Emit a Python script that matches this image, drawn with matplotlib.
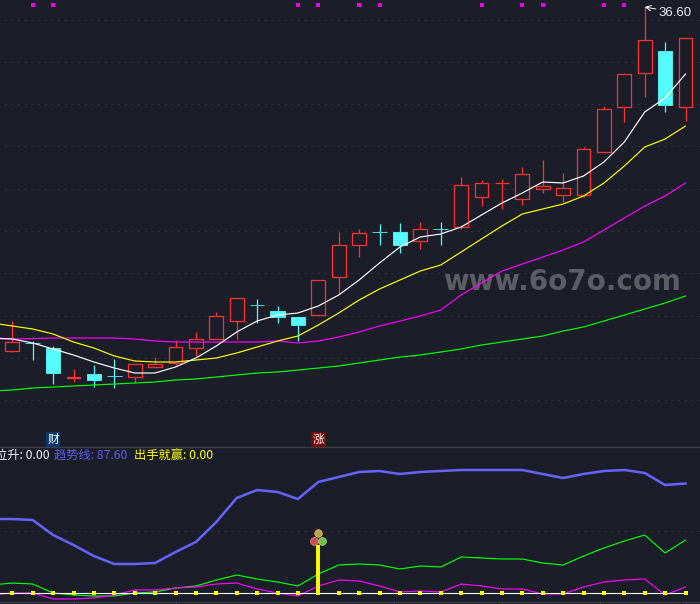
import numpy as np
import matplotlib
matplotlib.use('Agg')
import matplotlib.pyplot as plt

plt.rcParams['font.family'] = ['Noto Sans CJK SC', 'DejaVu Sans']

# candles, oldest first
opens = [19.40, 19.80, 19.55, 18.05, 18.25, 18.15, 18.10, 18.60, 18.80, 19.55, 20.00, 20.90, 21.70, 21.40, 21.10, 21.20, 23.10,
         24.70, 25.35, 25.35, 24.90, 25.50, 25.60, 27.10, 27.80, 27.00, 27.50, 27.20, 27.20, 29.35, 31.60, 33.30, 34.40, 31.60]
closes = [19.85, 19.79, 18.30, 18.10, 17.95, 18.14, 18.75, 18.75, 19.60, 20.00, 21.15, 22.05, 21.69, 21.10, 20.70, 22.95, 24.70,
          25.30, 25.34, 24.70, 25.50, 25.49, 27.70, 27.80, 27.80, 28.25, 27.65, 27.55, 29.50, 31.50, 33.25, 34.95, 31.70, 35.05]
highs = [20.90, 19.90, 19.65, 18.50, 18.70, 19.00, 18.75, 19.10, 19.95, 20.35, 21.35, 22.05, 22.00, 21.65, 21.10, 22.95, 25.35,
         25.50, 25.75, 25.80, 25.85, 25.85, 28.10, 27.95, 28.00, 28.60, 28.95, 28.30, 29.60, 31.65, 33.30, 36.60, 34.85, 35.05]
lows = [19.35, 18.95, 17.75, 17.85, 17.60, 17.55, 17.80, 18.55, 18.70, 19.15, 20.00, 20.00, 20.80, 20.80, 19.90, 21.20, 22.25,
        24.10, 24.70, 24.30, 24.50, 24.70, 25.50, 26.65, 26.50, 26.70, 27.30, 26.85, 27.10, 29.35, 30.85, 32.10, 31.35, 30.90]

# moving averages, first value belongs to the candle just off the left edge
ma5 = [20.05, 20.00, 19.80, 19.50, 19.20, 18.85, 18.55, 18.30, 18.30, 18.60, 19.05, 19.65, 20.35, 20.90, 21.20, 21.30, 21.65,
       22.20, 22.95, 23.80, 24.60, 25.10, 25.25, 25.60, 26.20, 26.80, 27.30, 27.85, 27.80, 28.15, 28.85, 29.85, 31.35, 32.05, 33.25]
ma10 = [20.80, 20.65, 20.50, 20.25, 19.85, 19.55, 19.15, 18.90, 18.85, 18.85, 18.95, 19.05, 19.30, 19.60, 19.90, 20.15, 20.70,
        21.30, 21.95, 22.50, 22.95, 23.40, 23.70, 24.35, 25.00, 25.65, 26.25, 26.50, 26.75, 27.15, 27.80, 28.65, 29.60, 30.00, 30.65]
ma20 = [20.00, 20.00, 20.02, 20.05, 20.05, 20.05, 20.05, 20.00, 19.90, 19.85, 19.85, 19.85, 19.85, 19.85, 19.90, 19.80, 19.90,
        20.10, 20.35, 20.65, 20.90, 21.15, 21.45, 22.20, 22.80, 23.40, 23.75, 24.10, 24.45, 24.85, 25.45, 26.05, 26.65, 27.15, 27.80]
ma60 = [17.40, 17.45, 17.55, 17.60, 17.65, 17.70, 17.75, 17.80, 17.85, 17.95, 18.00, 18.10, 18.20, 18.30, 18.35, 18.45, 18.55,
        18.65, 18.80, 18.95, 19.10, 19.20, 19.35, 19.50, 19.70, 19.85, 20.00, 20.15, 20.40, 20.60, 20.90, 21.20, 21.50, 21.80, 22.15]

grid_prices = [35.97, 33.87, 31.75, 29.65, 27.52, 25.40, 23.30, 21.17, 19.05, 16.95]
flag_days = [1, 2, 14, 15, 17, 18, 23, 25, 26, 29, 30]
peak_day = 31
peak_price = 36.60

# lower pane
trend = [59.2, 59.2, 58.4, 46.4, 38.4, 29.6, 23.2, 23.2, 24.0, 32.8, 40.8, 56.8, 76.0, 82.4, 80.8, 75.2, 88.8, 92.8,
         96.8, 97.6, 95.2, 96.8, 97.6, 98.4, 98.4, 98.4, 98.4, 95.2, 92.0, 95.2, 97.6, 98.4, 96.0, 86.4, 87.6]
green_osc = [6.4, 8.0, 7.2, 0.0, -1.6, -2.4, -2.4, 0.0, 0.8, 4.0, 5.6, 10.4, 14.4, 11.2, 8.8, 5.6, 15.2, 22.4,
             23.2, 22.4, 19.2, 21.6, 20.8, 28.8, 28.0, 27.2, 27.2, 24.0, 22.4, 29.6, 36.0, 41.6, 46.4, 32.0, 42.4]
magenta_osc = [-1.6, 0.0, 0.0, -4.8, -4.8, -4.0, -1.6, 2.4, 2.4, 4.0, 4.8, 7.2, 8.0, 3.2, 0.0, -2.4, 5.6, 10.4,
               9.6, 5.6, 0.8, 1.6, 0.8, 7.2, 5.6, 3.2, 3.2, -0.8, -0.8, 4.8, 8.8, 10.4, 11.2, -1.6, 4.8]
baseline = [0.0] * 34
signal_day = 15
signal_value = 38.4
tick_days = [3, 8, 18.7, 24, 28.8, 33]

bg = '#1b1e28'
red = '#ff3232'
cyan = '#54fcfc'
days = np.arange(len(opens))
line_days = np.arange(-1, len(opens))

fig = plt.figure(figsize=(7.0, 6.04), dpi=100, facecolor=bg)
ax = fig.add_axes([0, 157 / 604, 1, 447 / 604], facecolor=bg)
ax2 = fig.add_axes([0, 0, 1, 157 / 604], facecolor=bg)
for a in (ax, ax2):
    a.set_xlim(-0.603, 33.71)
    for s in a.spines.values():
        s.set_visible(False)
    a.tick_params(left=False, bottom=False, labelleft=False, labelbottom=False)
ax.set_ylim(14.6, 36.95)
ax2.set_ylim(-8.8, 116.8)

for p in grid_prices:
    ax.axhline(p, xmin=0.005, color='#30333c', lw=0.8, ls=(0, (2, 4)), zorder=1)
ax2.axhline(50, xmin=0.005, color='#30333c', lw=0.8, ls=(0, (2, 4)), zorder=1)

# watermark sits under the lines
ax.text(562 / 700, (447 - 282) / 447, 'www.6o7o.com', transform=ax.transAxes, color='#5c5e63', fontsize=20,
        fontweight='bold', ha='center', va='center', family=['DejaVu Sans'], zorder=2)

# candles
for d, o, c, h, l in zip(days, opens, closes, highs, lows):
    col = red if c >= o else cyan
    ax.vlines(d, max(o, c), h, color=col, lw=0.9, zorder=3)
    ax.vlines(d, l, min(o, c), color=col, lw=0.9, zorder=3)
    if c >= o:
        ax.bar(d, c - o, bottom=o, width=0.68, facecolor=bg, edgecolor=col, lw=0.9, zorder=3)
    else:
        ax.bar(d, o - c, bottom=c, width=0.72, facecolor=col, edgecolor=col, lw=0.6, zorder=3)

ax.plot(line_days, ma60, color='#00ff00', lw=0.85, zorder=4)
ax.plot(line_days, ma20, color='#ff00ff', lw=0.85, zorder=4)
ax.plot(line_days, ma10, color='#ffff00', lw=0.85, zorder=4)
ax.plot(line_days, ma5, color='#ffffff', lw=0.85, zorder=5)

ax.scatter(flag_days, [36.68] * len(flag_days), marker='s', s=6.5, color='#f000f0', lw=0, zorder=5)

ax.annotate(f'{peak_price:.2f}', xy=(peak_day, peak_price), xytext=(10, -4), textcoords='offset points',
            color='#e8f0f0', fontsize=9.5, va='center', family=['Liberation Sans'],
            arrowprops=dict(arrowstyle='->', color='white', lw=0.7, shrinkA=0, shrinkB=0))

# day marks above the divider
ax.text(2, 14.96, '财', color='white', fontsize=8.5, ha='center', va='center',
        bbox=dict(boxstyle='square,pad=0.12', facecolor='#0a3a6e', edgecolor='none'))
ax.text(signal_day, 14.96, '涨', color='white', fontsize=8.5, ha='center', va='center',
        bbox=dict(boxstyle='square,pad=0.12', facecolor='#7a0808', edgecolor='none'))

# lower pane
ax2.plot(line_days, trend, color='#6464ff', lw=1.8, zorder=3)
ax2.plot(line_days, green_osc, color='#00ff00', lw=0.85, zorder=3)
ax2.plot(line_days, magenta_osc, color='#ff00ff', lw=0.85, zorder=3)
ax2.plot(days, baseline, color='white', lw=0.8, zorder=4)
ax2.axhline(0, xmax=12.3 / 700, color='white', lw=0.8, zorder=4)
ax2.scatter(days, baseline, marker='s', s=6, color='#ffff00', lw=0, zorder=5)
ax2.vlines(signal_day, 0, signal_value, color='#ffff00', lw=2.8, zorder=5)
ax2.scatter([14.98], [48.0], s=30, color='#c8a040', edgecolors='#f0e0a0', lw=0.4, zorder=6)
ax2.scatter([14.79], [41.6], s=32, color='#d84848', edgecolors='#f0b0b0', lw=0.4, zorder=6)
ax2.scatter([15.18], [41.6], s=32, color='#70c040', edgecolors='#c0f0a0', lw=0.4, zorder=6)
ax2.vlines(tick_days, -8.8, -7.2, color='#50535c', lw=0.8)

for x, label, col in [(-5, '位升: 0.00', '#f0f0f0'), (54, '趋势线: 87.60', '#5a5ee6'), (134, '出手就赢: 0.00', '#ffff00')]:
    fig.text(x / 700, 1 - 455.5 / 604, label, color=col, fontsize=8.8, va='center', ha='left')

# pane borders
fig.add_artist(plt.Line2D([0, 1], [157 / 604, 157 / 604], color='#3c3f48', lw=1.0))
fig.add_artist(plt.Line2D([0, 1], [2 / 604, 2 / 604], color='#3c3f48', lw=1.0))

fig.savefig('out.png', dpi=100, facecolor=bg)
